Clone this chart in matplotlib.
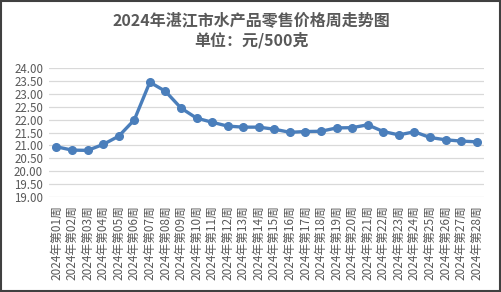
import matplotlib
matplotlib.use("Agg")
import matplotlib.pyplot as plt
from matplotlib.patches import Rectangle

plt.rcParams['font.family'] = ['Noto Sans CJK SC', 'DejaVu Sans']

# weekly retail price, yuan per 500 g
weeks = ["2024年第%02d周" % i for i in range(1, 29)]
prices = [20.95, 20.82, 20.81, 21.04, 21.36, 21.99, 23.45, 23.10, 22.45, 22.06,
          21.90, 21.75, 21.71, 21.71, 21.63, 21.51, 21.54, 21.55, 21.68, 21.69,
          21.80, 21.54, 21.41, 21.53, 21.31, 21.22, 21.17, 21.14]
yticks = [19.0 + 0.5 * i for i in range(11)]

gray = "#595959"
blue = "#4a7ebb"

fig = plt.figure(figsize=(5.02, 2.92), dpi=100)
ax = fig.add_axes([0.097, 0.325, 0.868, 0.442])

x = list(range(len(weeks)))
ax.plot(x, prices, color=blue, linewidth=2.4, marker="o", markersize=5.5,
        markerfacecolor=blue, markeredgecolor=blue, zorder=3)

ax.set_xlim(-0.5, len(weeks) - 0.5)
ax.set_ylim(19, 24)
ax.set_yticks(yticks)
ax.set_yticklabels(["%.2f" % v for v in yticks], fontsize=8.3, color=gray)
ax.set_xticks(x)
ax.set_xticklabels(weeks, rotation=90, fontsize=8.5, color=gray)
ax.tick_params(axis="both", length=0, pad=4)
ax.tick_params(axis="x", pad=6)
ax.yaxis.grid(True, color="#d9d9d9", linewidth=0.9)
ax.set_axisbelow(True)
for s in ax.spines.values():
    s.set_visible(False)

fig.text(0.5, 0.932, "2024年湛江市水产品零售价格周走势图", ha="center", va="center",
         fontsize=11.5, fontweight="bold", color=gray)
fig.text(0.5, 0.862, "单位：元/500克", ha="center", va="center",
         fontsize=11.5, fontweight="bold", color=gray)

# outer frame of the chart
fig.patches.append(Rectangle((0.002, 0.004), 0.994, 0.992, transform=fig.transFigure,
                             fill=False, edgecolor="#404040", linewidth=1.5))

fig.savefig("out.png", dpi=100)
